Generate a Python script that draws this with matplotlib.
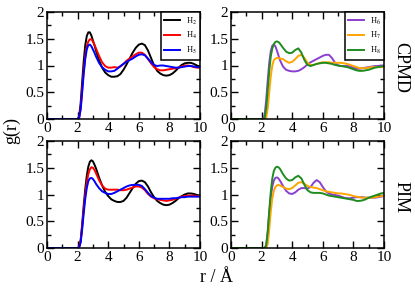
import matplotlib
matplotlib.use("Agg")
import matplotlib.pyplot as plt
from matplotlib.ticker import MultipleLocator

plt.rcParams['font.family'] = ['Liberation Serif', 'DejaVu Serif']
plt.rcParams['mathtext.fontset'] = 'stix'
plt.rcParams['font.size'] = 11

# r grid (Angstrom), shared by all curves
r = [0, 1.9, 2.0, 2.1, 2.2, 2.3, 2.4, 2.5, 2.6, 2.7, 2.8, 2.9, 3.0, 3.1, 3.2,
     3.4, 3.6, 3.8, 4.0, 4.2, 4.4, 4.6, 4.8, 5.0, 5.2, 5.4, 5.6, 5.8, 6.0,
     6.2, 6.4, 6.6, 6.8, 7.0, 7.2, 7.4, 7.6, 7.8, 8.0, 8.2, 8.4, 8.6, 8.8,
     9.0, 9.2, 9.4, 9.6, 9.8, 10.0]

# CPMD
cpmd_h2 = [0, 0, 0, 0.05, 0.3, 0.7, 1.08, 1.38, 1.55, 1.62, 1.62, 1.56, 1.47, 1.38, 1.28,
           1.1, 0.96, 0.87, 0.82, 0.79, 0.79, 0.8, 0.84, 0.92, 1.02, 1.13, 1.24, 1.33, 1.39,
           1.41, 1.38, 1.28, 1.14, 1.0, 0.9, 0.85, 0.82, 0.81, 0.82, 0.85, 0.9, 0.96, 1.01,
           1.04, 1.05, 1.05, 1.03, 1.0, 0.98]
cpmd_h4 = [0, 0, 0, 0.02, 0.2, 0.55, 0.9, 1.18, 1.36, 1.45, 1.49, 1.49, 1.45, 1.39, 1.32,
           1.18, 1.06, 0.99, 0.96, 0.96, 0.97, 0.96, 0.98, 1.03, 1.09, 1.13, 1.17, 1.21, 1.24,
           1.24, 1.2, 1.12, 1.04, 0.97, 0.93, 0.91, 0.91, 0.92, 0.93, 0.94, 0.95, 0.96, 0.98,
           1.0, 1.0, 0.99, 0.97, 0.96, 0.96]
cpmd_h5 = [0, 0, 0, 0.02, 0.18, 0.5, 0.85, 1.12, 1.3, 1.38, 1.39, 1.36, 1.3, 1.24, 1.17,
           1.05, 0.97, 0.92, 0.89, 0.89, 0.9, 0.94, 0.99, 1.03, 1.07, 1.1, 1.13, 1.17, 1.2,
           1.21, 1.19, 1.13, 1.06, 1.01, 0.99, 1.0, 1.0, 0.99, 0.98, 0.97, 0.96, 0.96, 0.97,
           0.98, 0.99, 0.99, 0.98, 0.97, 0.97]
cpmd_h6 = [0, 0, 0, 0, 0.08, 0.35, 0.72, 1.05, 1.27, 1.37, 1.39, 1.36, 1.28, 1.19, 1.1,
           0.98, 0.92, 0.9, 0.89, 0.89, 0.9, 0.93, 0.97, 1.02, 1.06, 1.09, 1.12, 1.15, 1.18,
           1.2, 1.2, 1.14, 1.05, 1.0, 0.99, 0.99, 0.99, 0.98, 0.96, 0.94, 0.94, 0.95, 0.96,
           0.97, 0.98, 0.99, 0.99, 1.0, 1.0]
cpmd_h7 = [0, 0, 0, 0, 0, 0.02, 0.2, 0.5, 0.8, 1.0, 1.1, 1.13, 1.14, 1.14, 1.13,
           1.12, 1.08, 1.05, 1.07, 1.12, 1.18, 1.2, 1.14, 1.05, 1.01, 1.01, 1.03, 1.05, 1.06,
           1.06, 1.06, 1.05, 1.05, 1.05, 1.05, 1.04, 1.03, 1.01, 0.99, 0.97, 0.95, 0.95, 0.95,
           0.96, 0.97, 0.97, 0.97, 0.97, 0.97]
cpmd_h8 = [0, 0, 0, 0, 0.02, 0.2, 0.55, 0.9, 1.17, 1.32, 1.4, 1.44, 1.45, 1.44, 1.41,
           1.33, 1.26, 1.23, 1.24, 1.29, 1.32, 1.24, 1.1, 1.01, 0.99, 1.01, 1.03, 1.04, 1.05,
           1.05, 1.04, 1.03, 1.01, 1.0, 0.99, 0.98, 0.97, 0.95, 0.93, 0.91, 0.9, 0.9, 0.91,
           0.92, 0.94, 0.96, 0.97, 0.98, 0.99]

# PIM
pim_h2 = [0, 0, 0, 0.02, 0.15, 0.45, 0.8, 1.1, 1.35, 1.52, 1.61, 1.64, 1.62, 1.56, 1.49,
          1.32, 1.17, 1.05, 0.97, 0.91, 0.88, 0.86, 0.86, 0.88, 0.94, 1.03, 1.12, 1.2, 1.25,
          1.26, 1.23, 1.15, 1.04, 0.95, 0.88, 0.84, 0.81, 0.8, 0.81, 0.84, 0.88, 0.93, 0.97,
          1.0, 1.02, 1.02, 1.01, 0.99, 0.98]
pim_h4 = [0, 0, 0, 0.02, 0.13, 0.4, 0.72, 1.0, 1.22, 1.38, 1.47, 1.51, 1.5, 1.46, 1.4,
          1.27, 1.17, 1.11, 1.09, 1.09, 1.09, 1.09, 1.08, 1.08, 1.09, 1.11, 1.13, 1.15, 1.15,
          1.13, 1.08, 1.01, 0.96, 0.93, 0.91, 0.9, 0.89, 0.88, 0.89, 0.9, 0.92, 0.94, 0.96,
          0.97, 0.98, 0.98, 0.98, 0.97, 0.97]
pim_h5 = [0, 0, 0, 0.01, 0.1, 0.35, 0.65, 0.92, 1.12, 1.25, 1.3, 1.31, 1.29, 1.25, 1.2,
          1.12, 1.06, 1.03, 1.01, 1.01, 1.03, 1.06, 1.09, 1.12, 1.15, 1.17, 1.18, 1.18, 1.18,
          1.16, 1.1, 1.03, 0.97, 0.94, 0.92, 0.92, 0.92, 0.92, 0.92, 0.93, 0.93, 0.94, 0.95,
          0.95, 0.96, 0.96, 0.96, 0.96, 0.96]
pim_h6 = [0, 0, 0, 0, 0, 0.05, 0.3, 0.65, 0.95, 1.15, 1.26, 1.31, 1.32, 1.3, 1.26,
          1.16, 1.07, 1.02, 1.01, 1.04, 1.09, 1.12, 1.12, 1.11, 1.14, 1.22, 1.27, 1.23, 1.14,
          1.06, 1.02, 1.0, 0.99, 0.98, 0.96, 0.94, 0.93, 0.93, 0.94, 0.95, 0.95, 0.95, 0.94,
          0.94, 0.94, 0.94, 0.95, 0.96, 0.97]
pim_h7 = [0, 0, 0, 0, 0, 0, 0.08, 0.35, 0.68, 0.93, 1.07, 1.14, 1.17, 1.18, 1.17,
          1.14, 1.11, 1.1, 1.12, 1.17, 1.22, 1.23, 1.2, 1.16, 1.14, 1.13, 1.12, 1.1, 1.08,
          1.06, 1.05, 1.04, 1.03, 1.02, 1.02, 1.01, 1.0, 0.99, 0.97, 0.96, 0.95, 0.94, 0.94,
          0.94, 0.94, 0.95, 0.96, 0.97, 0.97]
pim_h8 = [0, 0, 0, 0, 0, 0.05, 0.3, 0.7, 1.05, 1.3, 1.44, 1.5, 1.52, 1.51, 1.48,
          1.38, 1.3, 1.26, 1.27, 1.32, 1.35, 1.3, 1.18, 1.08, 1.04, 1.03, 1.03, 1.03, 1.02,
          1.0, 0.98, 0.97, 0.96, 0.95, 0.94, 0.93, 0.92, 0.91, 0.9, 0.88, 0.88, 0.89, 0.91,
          0.94, 0.96, 0.98, 1.0, 1.02, 1.03]

labels_left = ['H$_2$', 'H$_4$', 'H$_5$']
labels_right = ['H$_6$', 'H$_7$', 'H$_8$']
colors_left = ['black', '#ff0000', '#0000ff']
colors_right = ['#8b3fd0', '#ffa500', '#1e8c1e']

xticks = [0, 2, 4, 6, 8, 10]
yticks = [0, 0.5, 1, 1.5, 2]
yticklabels = ['0', '0.5', '1', '1.5', '2']

fig = plt.figure(figsize=(4.15, 2.89), dpi=100)

W, H = 415.0, 289.0
panels = [
    # (left px, top px, series, labels, colors, legend)
    (47, 12, [cpmd_h2, cpmd_h4, cpmd_h5], labels_left, colors_left, True),
    (231, 12, [cpmd_h6, cpmd_h7, cpmd_h8], labels_right, colors_right, True),
    (47, 141, [pim_h2, pim_h4, pim_h5], labels_left, colors_left, False),
    (231, 141, [pim_h6, pim_h7, pim_h8], labels_right, colors_right, False),
]

for left, top, series, labs, cols, show_leg in panels:
    ax = fig.add_axes([left / W, 1 - (top + 107) / H, 153 / W, 107 / H])
    for g, lab, c in zip(series, labs, cols):
        ax.plot(r, g, color=c, lw=1.4, label=lab)
    ax.set_xlim(0, 10)
    ax.set_ylim(0, 2)
    ax.set_xticks(xticks)
    ax.set_xticklabels([str(t) for t in xticks])
    ax.set_yticks(yticks)
    ax.set_yticklabels(yticklabels)
    ax.xaxis.set_minor_locator(MultipleLocator(1))
    ax.yaxis.set_minor_locator(MultipleLocator(0.25))
    ax.tick_params(which='both', direction='in', top=True, right=True, width=1.0,
                   labelsize=11, pad=2)
    ax.tick_params(which='major', length=5)
    ax.tick_params(which='minor', length=3)
    for s in ax.spines.values():
        s.set_linewidth(1.1)
    if show_leg:
        leg = ax.legend(loc='upper right', fontsize=6, borderaxespad=0,
                        fancybox=False, framealpha=1, edgecolor='black',
                        handlelength=1.9, handletextpad=0.7, labelspacing=0.45,
                        borderpad=0.4)
        leg.get_frame().set_linewidth(1.1)

fig.text(12 / W, 1 - 130 / H, 'g(r)', rotation=90, ha='center', va='center', fontsize=13)
fig.text(216 / W, 1 - 277 / H, 'r / Å', ha='center', va='center', fontsize=13)
fig.text(401 / W, 1 - 67 / H, 'CPMD', rotation=270, ha='center', va='center', fontsize=13)
fig.text(401 / W, 1 - 197 / H, 'PIM', rotation=270, ha='center', va='center', fontsize=13)

fig.savefig('out.png', dpi=100)
